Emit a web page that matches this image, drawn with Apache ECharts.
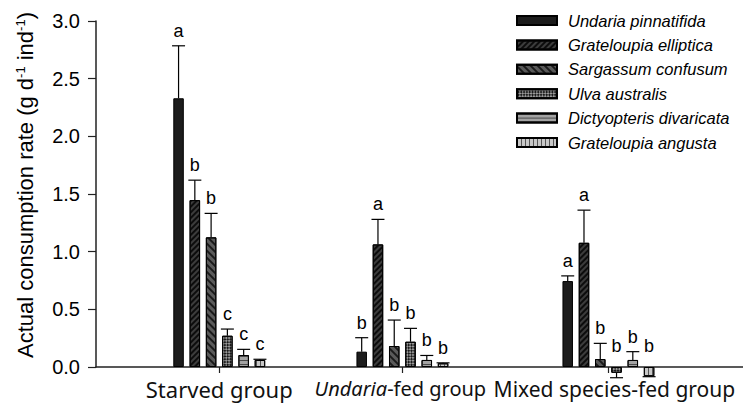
<!DOCTYPE html>
<html>
<head>
<meta charset="utf-8">
<script src="https://cdn.jsdelivr.net/npm/echarts@6/dist/echarts.min.js"></script>
<style>
html,body{margin:0;padding:0;background:#fff;}
#chart{width:743px;height:407px;}
</style>
</head>
<body>
<div id="chart"></div>
<script>
// ---- data ----
const groups = ['Starved group', 'Undaria-fed group', 'Mixed species-fed group'];
const groupPos = [1, 2, 3.125];
const yTicks = [0, 0.5, 1.0, 1.5, 2.0, 2.5, 3.0];
const species = ['Undaria pinnatifida', 'Grateloupia elliptica', 'Sargassum confusum',
                 'Ulva australis', 'Dictyopteris divaricata', 'Grateloupia angusta'];

const undariaMean   = [2.33, 0.133, 0.745];
const undariaErr    = [0.455, 0.121, 0.045];
const undariaLetter = ['a', 'b', 'a'];

const ellipticaMean   = [1.447, 1.063, 1.077];
const ellipticaErr    = [0.173, 0.217, 0.283];
const ellipticaLetter = ['b', 'a', 'a'];

const sargassumMean   = [1.124, 0.182, 0.069];
const sargassumErr    = [0.208, 0.225, 0.136];
const sargassumLetter = ['b', 'b', 'b'];

const ulvaMean   = [0.271, 0.219, -0.05];
const ulvaErr    = [0.058, 0.116, 0.043];
const ulvaLetter = ['c', 'b', 'b'];

const dictyMean   = [0.104, 0.061, 0.061];
const dictyErr    = [0.049, 0.039, 0.072];
const dictyLetter = ['c', 'b', 'b'];

const angustaMean   = [0.061, 0.032, -0.08];
const angustaErr    = [0.006, 0.004, 0.004];
const angustaLetter = ['c', 'b', 'b'];

const allMeans   = [undariaMean, ellipticaMean, sargassumMean, ulvaMean, dictyMean, angustaMean];
const allErrs    = [undariaErr, ellipticaErr, sargassumErr, ulvaErr, dictyErr, angustaErr];
const allLetters = [undariaLetter, ellipticaLetter, sargassumLetter, ulvaLetter, dictyLetter, angustaLetter];

// ---- styles ----
const BAR_W = 10.5;
const BAR_GAP = 0.55;
const FONT = '"Liberation Sans", Arial, sans-serif';
const XFONT = '"Noto Sans", sans-serif';
const fills = ['#1c1c1c', '#3c3c3c', '#5a5a5a', '#9a9a9a', '#a3a3a3', '#c8c8c8'];
const decals = [
  null,
  {symbol: 'rect', symbolSize: 1, color: '#0c0c0c', dashArrayX: [1, 0], dashArrayY: [1.5, 2], rotation: -Math.PI / 4},
  {symbol: 'rect', symbolSize: 1, color: '#1a1a1a', dashArrayX: [1, 0], dashArrayY: [1.5, 2.5], rotation: Math.PI / 4},
  {symbol: 'rect', symbolSize: 1, color: '#1a1a1a', dashArrayX: [[2, 2], [0, 2, 2, 0]], dashArrayY: [2, 0], rotation: Math.PI / 4},
  {symbol: 'rect', symbolSize: 1, color: '#4a4a4a', dashArrayX: [1, 0], dashArrayY: [1, 3], rotation: 0},
  {symbol: 'rect', symbolSize: 1, color: '#555555', dashArrayX: [1, 2.5], dashArrayY: [1, 0], rotation: 0}
];

const barSeries = species.map((name, s) => ({
  name: name,
  type: 'bar',
  xAxisIndex: 0,
  barWidth: BAR_W,
  barGap: (BAR_GAP * 100) + '%',
  clip: false,
  itemStyle: Object.assign({color: fills[s], borderColor: '#000', borderWidth: 1},
                           decals[s] ? {decal: decals[s]} : {}),
  emphasis: {disabled: true},
  data: groupPos.map((p, g) => [p, allMeans[s][g]])
}));

const errData = [];
species.forEach((name, s) => {
  groupPos.forEach((p, g) => {
    errData.push([p, allMeans[s][g], allErrs[s][g], s, allLetters[s][g]]);
  });
});

const errSeries = {
  type: 'custom',
  xAxisIndex: 0,
  clip: false,
  silent: true,
  z: 5,
  data: errData,
  encode: {x: 0, y: 1},
  renderItem: function (params, api) {
    const xv = api.value(0), mean = api.value(1), err = api.value(2), s = api.value(3);
    const letter = errData[params.dataIndex][4];
    const spacing = BAR_W * (1 + BAR_GAP);
    const x = api.coord([xv, 0])[0] + (s - 2.5) * spacing;
    const y0 = api.coord([xv, 0])[1];
    const ym = api.coord([xv, mean])[1];
    const ye = api.coord([xv, mean >= 0 ? mean + err : mean - err])[1];
    const capW = 6.5;
    const anchorY = mean >= 0 ? ye : y0 - 6;
    return {
      type: 'group',
      children: [
        {type: 'line', shape: {x1: x, y1: ym, x2: x, y2: ye}, style: {stroke: '#000', lineWidth: 1.2}},
        {type: 'line', shape: {x1: x - capW, y1: ye, x2: x + capW, y2: ye}, style: {stroke: '#000', lineWidth: 1.2}},
        {type: 'text', x: x, y: anchorY - 6,
         style: {text: letter, fill: '#000', font: '18px ' + FONT, align: 'center', verticalAlign: 'bottom'}}
      ]
    };
  }
};

function groupLabel(v) {
  const i = groupPos.findIndex(p => Math.abs(p - v) < 1e-6);
  if (i === 0) return '{s|' + groups[0] + '}';
  if (i === 1) return '{it|Undaria}{u|' + groups[1].slice(7) + '}';
  if (i === 2) return '{m|' + groups[2] + '}';
  return '';
}

const xLabelBase = {
  show: true,
  margin: 11,
  fontFamily: XFONT,
  fontSize: 21,
  color: '#111',
  hideOverlap: false,
  showMinLabel: true,
  showMaxLabel: true,
  formatter: groupLabel,
  rich: {
    s: {fontFamily: XFONT, fontSize: 22, color: '#111'},
    it: {fontFamily: XFONT, fontSize: 20, fontStyle: 'italic', color: '#111'},
    u: {fontFamily: XFONT, fontSize: 20, color: '#111', padding: [0, 4, 0, 0]},
    m: {fontFamily: XFONT, fontSize: 21, color: '#111', padding: [0, 0, 0, 12]}
  }
};

const chart = echarts.init(document.getElementById('chart'), null, {renderer: 'svg'});
chart.setOption({
  backgroundColor: '#fff',
  animation: false,
  grid: {left: 96, right: 0, top: 21, bottom: 40, containLabel: false, outerBoundsMode: 'none'},
  legend: {
    data: species,
    orient: 'vertical',
    left: 516,
    top: 12,
    padding: 0,
    itemWidth: 40,
    itemHeight: 9,
    itemGap: 7.4,
    icon: 'rect',
    selectedMode: false,
    textStyle: {fontFamily: FONT, fontStyle: 'italic', fontSize: 16.5, color: '#000', lineHeight: 17, padding: [0, 0, 0, 6]}
  },
  xAxis: [
    {
      type: 'value',
      position: 'bottom',
      min: 0.327,
      max: 3.86,
      splitLine: {show: false},
      axisLine: {show: true, onZero: false, lineStyle: {color: '#222', width: 1.5}},
      axisTick: {show: true, customValues: groupPos, length: 6, lineStyle: {color: '#222', width: 1.2}},
      axisLabel: Object.assign({}, xLabelBase, {customValues: [groupPos[0], groupPos[2]]})
    },
    {
      type: 'value',
      position: 'bottom',
      offset: 0,
      min: 0.327,
      max: 3.86,
      splitLine: {show: false},
      axisLine: {show: false, onZero: false},
      axisTick: {show: false},
      axisLabel: Object.assign({}, xLabelBase, {customValues: [groupPos[1]]})
    }
  ],
  yAxis: {
    type: 'value',
    min: yTicks[0],
    max: yTicks[yTicks.length - 1],
    interval: 0.5,
    splitLine: {show: false},
    axisLine: {show: true, lineStyle: {color: '#222', width: 1.5}},
    axisTick: {show: true, length: 8, lineStyle: {color: '#222', width: 1.2}},
    axisLabel: {margin: 16, fontFamily: FONT, fontSize: 20, color: '#000', formatter: v => v.toFixed(1)},
    name: 'Actual consumption rate (g d{sup|-1} ind{sup|-1})',
    nameLocation: 'middle',
    nameGap: 60,
    nameTextStyle: {
      fontFamily: FONT, fontSize: 22, color: '#000', lineHeight: 22, padding: [0, 0, 0, 18],
      rich: {sup: {fontFamily: FONT, fontSize: 13, lineHeight: 13, verticalAlign: 'top', color: '#000'}}
    }
  },
  series: barSeries.concat([errSeries])
});
</script>
</body>
</html>
